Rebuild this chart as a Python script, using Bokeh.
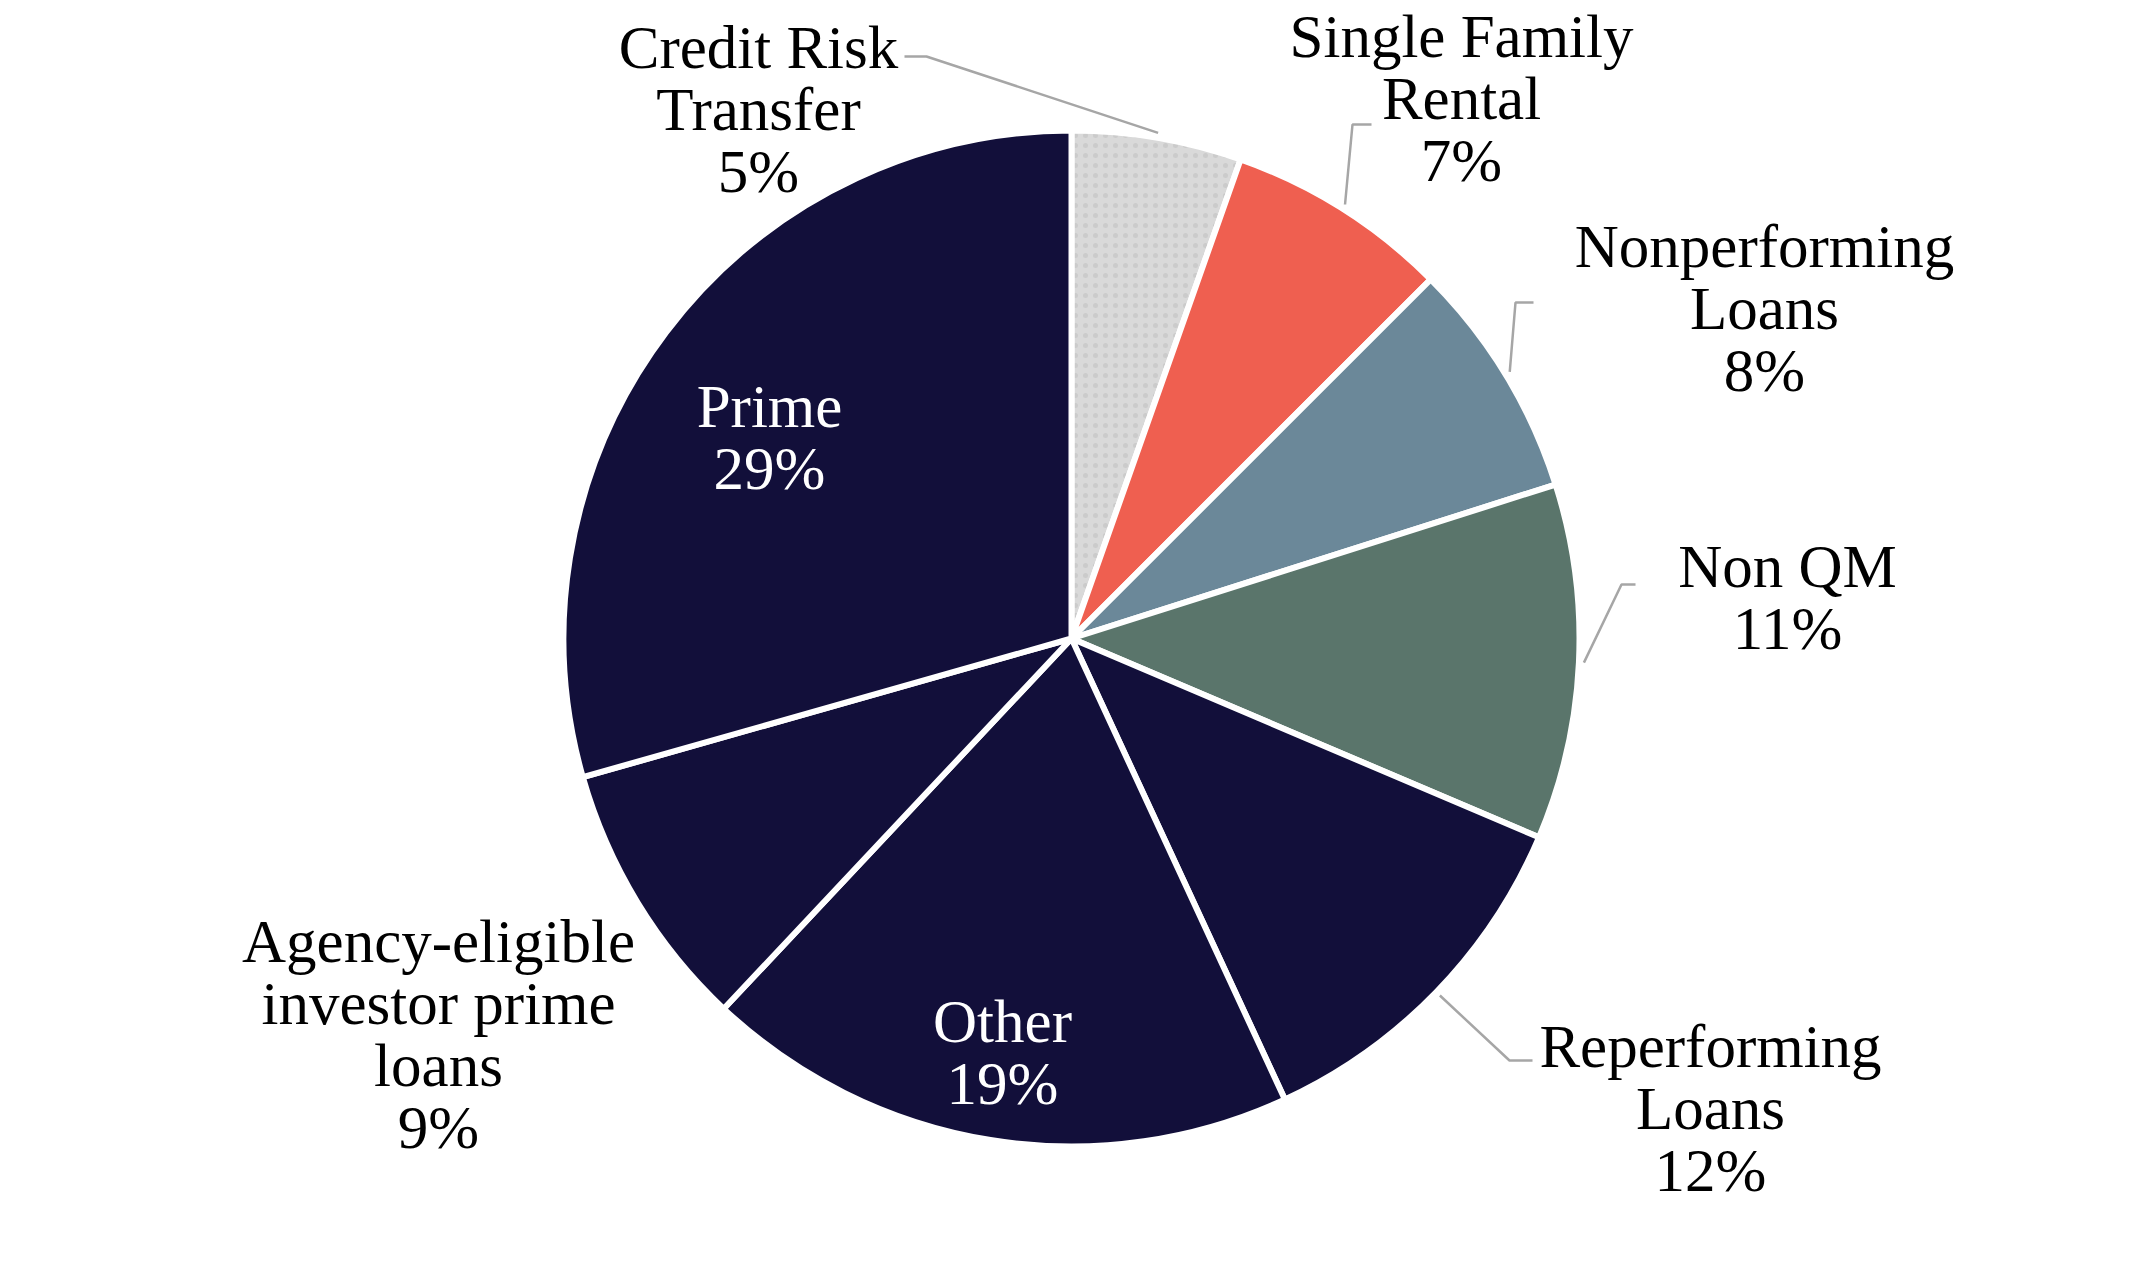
import math
from bokeh.plotting import figure
from bokeh.models import Range1d, ColumnDataSource
from bokeh.core.properties import value
from bokeh.embed import file_html
from bokeh.resources import INLINE

# ---- data ----
categories = ["Credit Risk\nTransfer", "Single Family\nRental", "Nonperforming\nLoans",
              "Non QM", "Reperforming\nLoans", "Other",
              "Agency-eligible\ninvestor prime\nloans", "Prime"]
shares = [5.4, 7.1, 7.6, 11.3, 11.7, 18.9, 8.6, 29.4]
colors = ["#d9d9d9", "#ef5f50", "#6b8899", "#5a756b", "#120f3a", "#120f3a", "#120f3a", "#120f3a"]

# ---- layout (screen pixels) ----
W, H = 2125, 1262
CX, CY = 1079, 646        # pie centre (screen)
R = 508                   # radius px
label_xy = [(766, 117), (1469, 106), (1772, 316), (1795, 605),
            (1718, 1116), (1010, 1060), (446, 1042), (777, 445)]
label_colors = ["black", "black", "black", "black", "black", "white", "black", "white"]
# leader lines: index -> (tail_x, elbow_x, y)
leaders = {0: (912, 934, 64), 1: (1379, 1360, 132), 2: (1541, 1523, 310),
           3: (1643, 1629, 592), 4: (1540, 1517, 1068)}

def sy(y):
    return 1278 - y

p = figure(width=W, height=H, output_backend="svg", toolbar_location=None,
           x_range=Range1d(8, 8 + W), y_range=Range1d(8, 8 + H),
           min_border=0, outline_line_color=None, background_fill_color="white")
p.axis.visible = False
p.grid.visible = False

total = sum(shares)
starts, ends, mids = [], [], []
cum = 0.0
for s in shares:
    a0 = math.pi / 2 - 2 * math.pi * cum / total
    cum += s
    a1 = math.pi / 2 - 2 * math.pi * cum / total
    starts.append(a0)
    ends.append(a1)
    mids.append((a0 + a1) / 2)

src = ColumnDataSource(dict(x=[CX] * len(shares), y=[sy(CY)] * len(shares),
                            start=starts, end=ends, color=colors,
                            hatch=["dot"] + [" "] * (len(shares) - 1)))
p.wedge(x="x", y="y", radius=R, radius_units="screen", start_angle="start", end_angle="end",
        direction="clock", fill_color="color", line_color="white", line_width=6,
        hatch_pattern="hatch", hatch_color="#cbcbcb", hatch_scale=10, hatch_weight=1,
        source=src)

# leader lines
for i, (tx, ex, ly) in leaders.items():
    m = mids[i]
    px = CX + (R + 5) * math.cos(m)
    py = sy(CY) + (R + 5) * math.sin(m)
    p.line([tx, ex, px], [sy(ly), sy(ly), py], line_color="#a6a6a6", line_width=2.5)

# labels
texts = [f"{c}\n{round(s)}%" for c, s in zip(categories, shares)]
tsrc = ColumnDataSource(dict(x=[a for a, b in label_xy], y=[sy(b) for a, b in label_xy],
                             text=texts, color=label_colors))
p.text(x="x", y="y", text="text", text_color="color", source=tsrc,
       text_font=value("Liberation Serif"), text_font_size=value("61px"),
       text_align="center", text_baseline="middle", text_line_height=0.93)

open("out.html", "w").write(file_html(p, INLINE))
